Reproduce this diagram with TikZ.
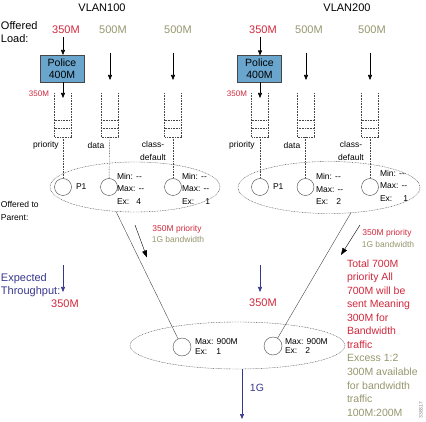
\documentclass[tikz,border=0pt]{standalone}
\usepackage{fontspec}
\setmainfont{Liberation Sans}
\usetikzlibrary{arrows.meta,shapes.geometric}
\definecolor{cred}{RGB}{208,40,60}
\definecolor{colive}{RGB}{150,150,110}
\definecolor{cnavy}{RGB}{55,55,140}
\definecolor{cpolice}{RGB}{105,165,205}
\definecolor{cline}{RGB}{70,70,70}
\begin{document}
\begin{tikzpicture}[x=1pt,y=-1pt,
  every node/.style={inner sep=0pt, outer sep=0pt},
  fA/.style={font=\fontsize{11}{13}\selectfont},
  fB/.style={font=\fontsize{8.5}{12.5}\selectfont},
  fC/.style={font=\fontsize{8}{9.5}\selectfont},
  arr/.style={-{Triangle[length=5pt,width=4pt]}, line width=0.6pt, black},
  narr/.style={-{Triangle[length=5pt,width=4pt]}, line width=0.6pt, cnavy},
  bigarr/.style={-{Triangle[length=7pt,width=5pt]}, line width=0.4pt, black},
  dots/.style={line width=0.4pt, cline, dash pattern=on 0.8pt off 0.8pt},
  thin/.style={line width=0.4pt, cline},
  police/.style={draw=cline, fill=cpolice, minimum width=44pt, minimum height=27pt, align=center, font=\fontsize{10.5}{12}\selectfont, line width=0.4pt},
  circ/.style={draw=cline, circle, minimum size=17pt, line width=0.4pt},
  ell/.style={draw=cline, ellipse, line width=0.4pt, dash pattern=on 0.8pt off 0.8pt},
  minmax/.style={fB, align=left, anchor=west},
]
\useasboundingbox (0,0) rectangle (426,422);

% titles
\node[fA] (v1) at (102,8) {VLAN100};
\node[fA] (v2) at (347,8) {VLAN200};
\node[fA, align=left, anchor=west] (off) at (1,32.5) {Offered\\Load:};

% offered loads
\node[fA, text=cred] (l1a) at (66,30) {350M};
\node[fA, text=colive] (l1b) at (113,30) {500M};
\node[fA, text=colive] (l1c) at (178,30) {500M};
\node[fA, text=cred] (l2a) at (263,30) {350M};
\node[fA, text=colive] (l2b) at (309,30) {500M};
\node[fA, text=colive] (l2c) at (372,30) {500M};

% police boxes
\node[police] (p1) at (62,68.5) {Police\\400M};
\node[police] (p2) at (259.5,69) {Police\\400M};
\node[fC, text=cred] (s1) at (39,94) {350M};
\node[fC, text=cred] (s2) at (237,94) {350M};

\draw[arr] (63,37) -- (p1.north -| 63,0);
\draw[arr] (260,37) -- (p2.north -| 260,0);
\coordinate (qa1) at (63,98);
\coordinate (qa2) at (260,98);
\draw[arr] (p1.south -| 63,0) -- (qa1);
\draw[arr] (p2.south -| 260,0) -- (qa2);
\coordinate (t1b) at (110,53); \coordinate (h1b) at (110,80);
\coordinate (t1c) at (173,53); \coordinate (h1c) at (173,80);
\coordinate (t2b) at (306,53); \coordinate (h2b) at (306,80);
\coordinate (t2c) at (370,53); \coordinate (h2c) at (370,80);
\draw[arr] (t1b) -- (h1b);
\draw[arr] (t1c) -- (h1c);
\draw[arr] (t2b) -- (h2b);
\draw[arr] (t2c) -- (h2c);

% queues
\foreach \qx in {63,109.5,173,260,305.5,370} {
  \draw[dots] ({\qx-8.5},93) -- ({\qx-8.5},137) -- ({\qx+8.5},137) -- ({\qx+8.5},93);
  \draw[dots] ({\qx-8.5},120) -- ({\qx+8.5},120) ({\qx-8.5},128) -- ({\qx+8.5},128);
}

% queue labels
\node[fB] (pr1) at (46,145) {priority};
\node[fB] (da1) at (96,145) {data};
\node[fB, align=center] (cd1) at (153,151) {class-\\default};
\node[fB] (pr2) at (242,145) {priority};
\node[fB] (da2) at (292,145) {data};
\node[fB, align=center] (cd2) at (351,151) {class-\\default};

% parent ellipses
\node[ell, minimum width=170pt, minimum height=50pt] (e1) at (135,187) {};
\node[ell, minimum width=182pt, minimum height=52pt] (e2) at (329,187.5) {};

% circles
\node[circ] (c11) at (63,187) {};
\node[circ] (c12) at (109,187) {};
\node[circ] (c13) at (173,187) {};
\node[circ] (c21) at (260,187) {};
\node[circ] (c22) at (305.5,187) {};
\node[circ] (c23) at (370,187) {};

\coordinate (qb11) at (63,137);
\coordinate (qb12) at (109.5,137);
\coordinate (qb13) at (173,137);
\coordinate (qb21) at (260,137);
\coordinate (qb22) at (305.5,137);
\coordinate (qb23) at (370,137);
\draw[dots] (qb11) -- (c11);
\draw[dots] (qb12) -- (c12);
\draw[dots] (qb13) -- (c13);
\draw[dots] (qb21) -- (c21);
\draw[dots] (qb22) -- (c22);
\draw[dots] (qb23) -- (c23);

\node[fB, anchor=west] (pp1) at (76,187) {P1};
\node[fB, anchor=west] (pp2) at (273,187) {P1};
\node[minmax] (m12) at (117,188.5) {Min: -{}-\\Max: -{}-\\Ex:\hspace{7pt}4};
\node[minmax] (m13) at (182,188.5) {Min: -{}-\\Max: -{}-\\Ex:\hspace{11pt}1};
\node[minmax] (m22) at (316,189) {Min: -{}-\\Max: -{}-\\Ex:\hspace{8pt}2};
\node[minmax] (m23) at (380,185.5) {Min: -{}-\\Max: -{}-\\Ex:\hspace{11pt}1};

\node[fB, align=left, anchor=west] (otp) at (1,211) {Offered to\\Parent:};

% offered-to-parent arrows and labels
\draw[bigarr] (135,225) -- (147,257.5);
\draw[bigarr] (360,225) -- (341,255);
\node[fB, text=cred] (op1a) at (177,229) {350M priority};
\node[fB, text=colive] (op1b) at (178,239.5) {1G bandwidth};
\node[fB, text=cred] (op2a) at (387,233) {350M priority};
\node[fB, text=colive] (op2b) at (388,244) {1G bandwidth};

% expected throughput
\node[fA, text=cnavy, align=left, anchor=west] (et) at (1,285) {Expected\\Throughput:};
\coordinate (et1) at (63,265); \coordinate (eh1) at (63,292);
\coordinate (et2) at (260,265); \coordinate (eh2) at (260,292);
\draw[narr] (et1) -- (eh1);
\draw[narr] (et2) -- (eh2);
\node[fA, text=cred] (x1) at (65,304) {350M};
\node[fA, text=cred] (x2) at (263,303) {350M};

% bottom ellipse
\node[ell, minimum width=215pt, minimum height=47pt] (eb) at (237.5,345.5) {};
\node[circ, minimum size=18pt] (b1) at (182,347) {};
\node[circ, minimum size=18pt] (b2) at (273,346) {};
\node[fB, align=left, anchor=west, font=\fontsize{8.5}{9.5}\selectfont] (bm1) at (195,346.5) {Max: 900M\\Ex:\hspace{9pt}1};
\node[fB, align=left, anchor=west, font=\fontsize{8.5}{9.5}\selectfont] (bm2) at (285,346) {Max: 900M\\Ex:\hspace{8pt}2};

\coordinate (e1o) at (116,211.5);
\coordinate (e2o) at (351,212.7);
\draw[thin] (e1o) -- (b1);
\draw[thin] (e2o) -- (b2);

% output
\coordinate (ebo) at (242,369);
\coordinate (out) at (242,419);
\draw[narr] (ebo) -- (out);
\node[fA, text=cnavy, font=\fontsize{10.5}{12}\selectfont] (g1) at (257,388) {1G};

% notes
\node[anchor=north west, align=left, font=\fontsize{10.5}{13.55}\selectfont] (note) at (347,259.5)
  {\color{cred}Total 700M\\\color{cred}priority All\\\color{cred}700M will be\\\color{cred}sent Meaning\\\color{cred}300M for\\\color{cred}Bandwidth\\\color{cred}traffic\\
   \color{colive}Excess 1:2\\\color{colive}300M available\\\color{colive}for bandwidth\\\color{colive}traffic\\\color{colive}100M:200M};

\node[rotate=90, font=\fontsize{5}{6}\selectfont, text=gray] (fid) at (421,410) {338317};
\end{tikzpicture}
\end{document}
